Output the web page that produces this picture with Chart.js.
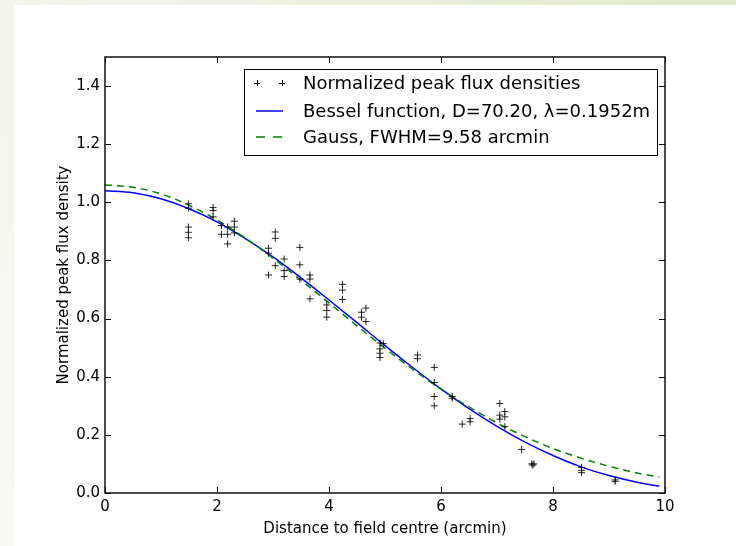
<!DOCTYPE html>
<html>
<head>
<meta charset="utf-8">
<title>Normalized peak flux density</title>
<script src="https://cdn.jsdelivr.net/npm/chart.js@4.4.0/dist/chart.umd.min.js"></script>
<style>
    html, body { margin: 0; padding: 0; background: #fff; }
    #page { position: relative; width: 736px; height: 546px; overflow: hidden; background: #fff; }
    #topBand { position: absolute; left: 0; top: 0; width: 736px; height: 5px;
               background: linear-gradient(to right, #f4f6ee, #e1eacb); }
    #leftBand { position: absolute; left: 0; top: 0; width: 14px; height: 546px;
                background: linear-gradient(to bottom, #f3f5ec, #f8f9f4); }
    #chart { position: absolute; left: 0; top: 0; }
</style>
</head>
<body>
<div id="page">
    <div id="topBand"></div>
    <div id="leftBand"></div>
    <canvas id="chart" width="736" height="546"></canvas>
</div>
<script>
// Измеренные точки (расстояние, arcmin / нормированный поток)
const fluxX = [
    1.49, 1.49, 1.49, 1.49, 1.49,
    1.93, 1.93, 1.93,
    2.08, 2.08,
    2.19, 2.19, 2.19,
    2.31, 2.31, 2.31,
    2.92, 2.92, 2.92,
    3.04, 3.04, 3.04,
    3.20, 3.20, 3.20,
    3.48, 3.48, 3.48,
    3.66, 3.66, 3.66,
    3.96, 3.96, 3.96,
    4.24, 4.24, 4.24,
    4.58, 4.58,
    4.66, 4.66,
    4.91, 4.91, 4.91, 4.91,
    4.97,
    5.58, 5.58,
    5.88, 5.88, 5.88, 5.88,
    6.20, 6.20,
    6.38,
    6.52, 6.52,
    7.05, 7.05, 7.05,
    7.14, 7.14, 7.14,
    7.44,
    7.62, 7.66, 7.64,
    8.51, 8.51, 8.51,
    9.11, 9.11
];
const fluxY = [
    0.995, 0.980, 0.915, 0.897, 0.878,
    0.982, 0.972, 0.950,
    0.920, 0.890,
    0.915, 0.890, 0.857,
    0.935, 0.915, 0.895,
    0.842, 0.825, 0.750,
    0.898, 0.876, 0.782,
    0.805, 0.765, 0.745,
    0.845, 0.785, 0.736,
    0.750, 0.736, 0.668,
    0.647, 0.628, 0.605,
    0.718, 0.698, 0.666,
    0.622, 0.605,
    0.636, 0.590,
    0.516, 0.496, 0.481, 0.466,
    0.514,
    0.475, 0.462,
    0.432, 0.380, 0.332, 0.300,
    0.332, 0.326,
    0.237,
    0.256, 0.245,
    0.308, 0.268, 0.254,
    0.280, 0.262, 0.228,
    0.150,
    0.100, 0.100, 0.096,
    0.088, 0.078, 0.070,
    0.045, 0.040
];

// Кривые аппроксимации
const curveX = [0, 0.5, 1, 1.5, 2, 2.5, 3, 3.5, 4, 4.5, 5, 5.5, 6, 6.5, 7, 7.5, 8, 8.5, 9, 9.5, 9.9];
const besselY = [1.040, 1.033, 1.012, 0.978, 0.933, 0.876, 0.812, 0.740, 0.664, 0.586, 0.507,
                 0.431, 0.358, 0.290, 0.229, 0.175, 0.129, 0.090, 0.060, 0.037, 0.023];
const gaussY = [1.060, 1.052, 1.029, 0.990, 0.939, 0.878, 0.808, 0.732, 0.654, 0.575, 0.498,
                0.425, 0.357, 0.296, 0.241, 0.194, 0.153, 0.120, 0.092, 0.069, 0.055];

// Оси
const xTicks = [0, 2, 4, 6, 8, 10];
const yTicks = [0.0, 0.2, 0.4, 0.6, 0.8, 1.0, 1.2, 1.4];

const legendLabels = [
    'Normalized peak flux densities',
    'Bessel function, D=70.20, \u03bb=0.1952m',
    'Gauss, FWHM=9.58 arcmin'
];
const xTitle = 'Distance to field centre (arcmin)';
const yTitle = 'Normalized peak flux density';

const FONT = "'DejaVu Sans', 'Liberation Sans', sans-serif";
const BLUE = '#0000ff';
const GREEN = '#008000';

function toPoints(xs, ys) {
    return xs.map((x, i) => ({ x: x, y: ys[i] }));
}

// Рамка, внутренние засечки, подписи осей и легенда
const framePlugin = {
    id: 'frame',
    afterDraw(chart) {
        const ctx = chart.ctx;
        const a = chart.chartArea;
        const xs = chart.scales.x;
        const ys = chart.scales.y;
        ctx.save();

        // засечки внутрь
        ctx.strokeStyle = '#000';
        ctx.lineWidth = 1;
        ctx.beginPath();
        xTicks.forEach(v => {
            const px = Math.round(xs.getPixelForValue(v)) + 0.5;
            ctx.moveTo(px, a.bottom); ctx.lineTo(px, a.bottom - 6);
            ctx.moveTo(px, a.top); ctx.lineTo(px, a.top + 6);
        });
        yTicks.forEach(v => {
            const py = Math.round(ys.getPixelForValue(v)) + 0.5;
            ctx.moveTo(a.left, py); ctx.lineTo(a.left + 6, py);
            ctx.moveTo(a.right, py); ctx.lineTo(a.right - 6, py);
        });
        ctx.stroke();

        // рамка
        ctx.lineWidth = 1.5;
        ctx.strokeStyle = '#111';
        ctx.strokeRect(a.left, a.top, a.right - a.left, a.bottom - a.top);

        // подписи осей
        ctx.fillStyle = '#000';
        ctx.font = '15px ' + FONT;
        ctx.textAlign = 'center';
        ctx.textBaseline = 'alphabetic';
        ctx.fillText(xTitle, (a.left + a.right) / 2, 533);
        ctx.save();
        ctx.translate(68, (a.top + a.bottom) / 2);
        ctx.rotate(-Math.PI / 2);
        ctx.fillText(yTitle, 0, 0);
        ctx.restore();

        // легенда
        const lx = 244, ly = 69, lw = 413, lh = 86;
        ctx.fillStyle = '#fff';
        ctx.fillRect(lx, ly, lw, lh);
        ctx.lineWidth = 1;
        ctx.strokeStyle = '#000';
        ctx.strokeRect(lx + 0.5, ly + 0.5, lw, lh);

        const rows = [83, 111, 137];
        // маркеры
        ctx.strokeStyle = '#000';
        ctx.beginPath();
        [257, 282].forEach(cx => {
            ctx.moveTo(cx - 3, rows[0] + 0.5); ctx.lineTo(cx + 3, rows[0] + 0.5);
            ctx.moveTo(cx + 0.5, rows[0] - 3); ctx.lineTo(cx + 0.5, rows[0] + 3);
        });
        ctx.stroke();
        // линия Бесселя
        ctx.strokeStyle = BLUE;
        ctx.lineWidth = 1.5;
        ctx.beginPath();
        ctx.moveTo(256, rows[1]); ctx.lineTo(283, rows[1]);
        ctx.stroke();
        // пунктир Гаусса
        ctx.strokeStyle = GREEN;
        ctx.setLineDash([9, 8]);
        ctx.beginPath();
        ctx.moveTo(256, rows[2]); ctx.lineTo(283, rows[2]);
        ctx.stroke();
        ctx.setLineDash([]);

        ctx.fillStyle = '#000';
        ctx.font = '18px ' + FONT;
        ctx.textAlign = 'left';
        ctx.fillText(legendLabels[0], 303, 89);
        ctx.fillText(legendLabels[1], 303, 117);
        ctx.fillText(legendLabels[2], 303, 143);

        ctx.restore();
    }
};

const ctx = document.getElementById('chart').getContext('2d');
new Chart(ctx, {
    type: 'scatter',
    data: {
        datasets: [
            {
                label: legendLabels[0],
                data: toPoints(fluxX, fluxY),
                showLine: false,
                pointStyle: 'cross',
                pointRadius: 3.5,
                borderColor: 'rgba(0,0,0,0.85)',
                borderWidth: 1,
                order: 1
            },
            {
                label: legendLabels[1],
                data: toPoints(curveX, besselY),
                showLine: true,
                pointRadius: 0,
                borderColor: BLUE,
                borderWidth: 1.5,
                cubicInterpolationMode: 'monotone',
                order: 3
            },
            {
                label: legendLabels[2],
                data: toPoints(curveX, gaussY),
                showLine: true,
                pointRadius: 0,
                borderColor: GREEN,
                borderWidth: 1.5,
                borderDash: [7, 5],
                cubicInterpolationMode: 'monotone',
                order: 2
            }
        ]
    },
    options: {
        responsive: false,
        animation: false,
        devicePixelRatio: 1,
        layout: { padding: { left: 0, top: 57, right: 71, bottom: 0 } },
        plugins: {
            legend: { display: false },
            tooltip: { enabled: false }
        },
        scales: {
            x: {
                type: 'linear',
                min: 0,
                max: 10,
                afterFit: scale => { scale.height = 53; },
                afterBuildTicks: scale => { scale.ticks = xTicks.map(v => ({ value: v })); },
                ticks: {
                    padding: 5,
                    color: '#000',
                    font: { family: FONT, size: 15 },
                    callback: v => String(v)
                },
                grid: { display: false, drawTicks: false },
                border: { display: false }
            },
            y: {
                type: 'linear',
                min: 0,
                max: 1.5,
                afterFit: scale => { scale.width = 105; },
                afterBuildTicks: scale => { scale.ticks = yTicks.map(v => ({ value: v })); },
                ticks: {
                    padding: 5,
                    color: '#000',
                    font: { family: FONT, size: 15 },
                    callback: v => Number(v).toFixed(1)
                },
                grid: { display: false, drawTicks: false },
                border: { display: false }
            }
        }
    },
    plugins: [framePlugin]
});
</script>
</body>
</html>
